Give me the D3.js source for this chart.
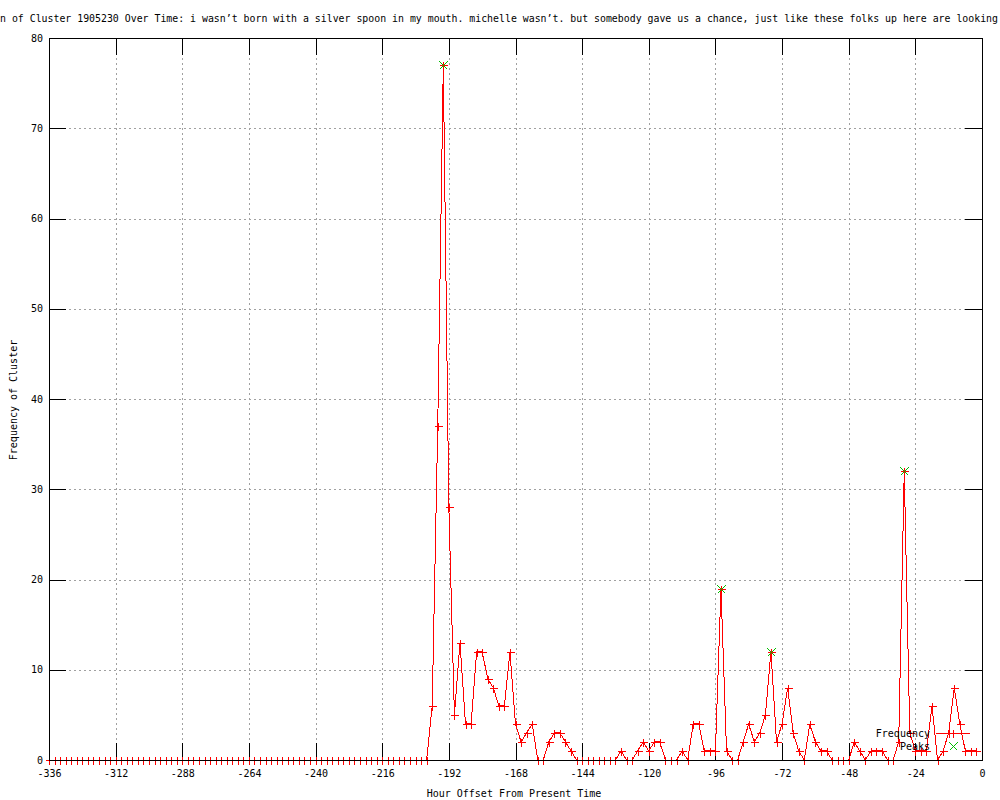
<!DOCTYPE html>
<html>
<head>
<meta charset="utf-8">
<script src="https://cdn.jsdelivr.net/npm/d3@7"></script>
<style>
  body { margin: 0; background: #fff; }
  text { font-family: "DejaVu Sans Mono", monospace; font-size: 10px; fill: #000; }
</style>
</head>
<body>
<script>
// hour offsets, one sample every 2 hours
var hours = d3.range(-336, 0, 2)

// frequency per sample, 12 values per 24h block
var freq = [
  0, 0, 0, 0, 0, 0, 0, 0, 0, 0, 0, 0,      // -336
  0, 0, 0, 0, 0, 0, 0, 0, 0, 0, 0, 0,      // -312
  0, 0, 0, 0, 0, 0, 0, 0, 0, 0, 0, 0,      // -288
  0, 0, 0, 0, 0, 0, 0, 0, 0, 0, 0, 0,      // -264
  0, 0, 0, 0, 0, 0, 0, 0, 0, 0, 0, 0,      // -240
  0, 0, 0, 0, 0, 0, 0, 0, 0, 6, 37, 77,    // -216
  28, 5, 13, 4, 4, 12, 12, 9, 8, 6, 6, 12, // -192
  4, 2, 3, 4, 0, 0, 2, 3, 3, 2, 1, 0,      // -168
  0, 0, 0, 0, 0, 0, 0, 1, 0, 0, 1, 2,      // -144
  1, 2, 2, 0, 0, 0, 1, 0, 4, 4, 1, 1,      // -120
  1, 19, 1, 0, 0, 2, 4, 2, 3, 5, 12, 2,    // -96
  4, 8, 3, 1, 0, 4, 2, 1, 1, 0, 0, 0,      // -72
  0, 2, 1, 0, 1, 1, 1, 0, 0, 2, 32, 3,     // -48
  1, 1, 1, 6, 0, 1, 3, 8, 4, 1, 1, 1       // -24
]

var peakHours = [-194, -94, -76, -28]
var peakValues = [77, 19, 12, 32]

var xTicks = d3.range(-336, 1, 24)
var yTicks = d3.range(0, 81, 10)

var titleText = "n of Cluster 1905230 Over Time: i wasn\u2019t born with a silver spoon in my mouth. michelle wasn\u2019t. but somebody gave us a chance, just like these folks up here are looking"

var plotLeft = 49, plotRight = 982, plotTop = 38, plotBottom = 760

var svg = d3
  .select("body")
  .append("svg")
  .attr("width", 1000)
  .attr("height", 800)

var x = d3.scaleLinear().domain([-336, 0]).range([plotLeft, plotRight])
var y = d3.scaleLinear().domain([0, 80]).range([plotBottom, plotTop])

var points = hours.map(function(h, i) {
  return { h: h, v: freq[i] }
})
var peaks = peakHours.map(function(h, i) {
  return { h: h, v: peakValues[i] }
})

/* ------- GRID -------*/
var grid = svg.append("g")
  .attr("stroke", "#a0a0a0")
  .attr("stroke-dasharray", "2,3")
  .attr("shape-rendering", "crispEdges")

grid.selectAll("line.gx")
  .data(xTicks.slice(1, -1))
  .join("line")
  .attr("class", "gx")
  .attr("x1", function(d) { return Math.round(x(d)) + 0.5 })
  .attr("x2", function(d) { return Math.round(x(d)) + 0.5 })
  .attr("y1", plotTop)
  .attr("y2", plotBottom)

grid.selectAll("line.gy")
  .data(yTicks.slice(1, -1))
  .join("line")
  .attr("class", "gy")
  .attr("x1", plotLeft)
  .attr("x2", plotRight)
  .attr("y1", function(d) { return Math.round(y(d)) + 0.5 })
  .attr("y2", function(d) { return Math.round(y(d)) + 0.5 })

/* ------- AXES -------*/
function styleAxis(g) {
  g.select(".domain").remove()
  g.attr("font-family", null).attr("font-size", null)
  g.selectAll("line").attr("stroke", "#000")
  g.attr("shape-rendering", "crispEdges")
}

svg.append("g")
  .attr("transform", "translate(0," + plotBottom + ")")
  .call(d3.axisBottom(x).tickValues(xTicks).tickFormat(function(d) { return String(d) })
    .tickSizeInner(-17).tickSizeOuter(0).tickPadding(10))
  .call(styleAxis)

svg.append("g")
  .attr("transform", "translate(0," + plotTop + ")")
  .call(d3.axisTop(x).tickValues(xTicks).tickFormat("").tickSizeInner(-17).tickSizeOuter(0))
  .call(styleAxis)

svg.append("g")
  .attr("transform", "translate(" + plotLeft + ",0)")
  .call(d3.axisLeft(y).tickValues(yTicks).tickFormat(function(d) { return String(d) })
    .tickSizeInner(-17).tickSizeOuter(0).tickPadding(6))
  .call(styleAxis)

svg.append("g")
  .attr("transform", "translate(" + plotRight + ",0)")
  .call(d3.axisRight(y).tickValues(yTicks).tickFormat("").tickSizeInner(-17).tickSizeOuter(0))
  .call(styleAxis)

/* ------- DATA -------*/
var line = d3.line()
  .x(function(d) { return x(d.h) })
  .y(function(d) { return y(d.v) })

svg.append("path")
  .datum(points)
  .attr("d", line)
  .attr("fill", "none")
  .attr("stroke", "#ff0000")
  .attr("stroke-width", 1)
  .attr("shape-rendering", "crispEdges")

function plus(px, py) {
  return "M" + (px - 4) + "," + py + "H" + (px + 4) + "M" + px + "," + (py - 4) + "V" + (py + 4)
}
function cross(px, py) {
  return "M" + (px - 4) + "," + (py - 4) + "L" + (px + 4) + "," + (py + 4) +
    "M" + (px - 4) + "," + (py + 4) + "L" + (px + 4) + "," + (py - 4)
}

svg.append("g")
  .selectAll("path")
  .data(points)
  .join("path")
  .attr("d", function(d) { return plus(Math.round(x(d.h)) + 0.5, Math.round(y(d.v)) + 0.5) })
  .attr("stroke", "#ff0000")
  .attr("fill", "none")
  .attr("shape-rendering", "crispEdges")

svg.append("g")
  .selectAll("path")
  .data(peaks)
  .join("path")
  .attr("d", function(d) { return cross(Math.round(x(d.h)) + 0.5, Math.round(y(d.v)) + 0.5) })
  .attr("stroke", "#00c000")
  .attr("fill", "none")
  .attr("shape-rendering", "crispEdges")

/* ------- BORDER -------*/
svg.append("rect")
  .attr("x", plotLeft + 0.5)
  .attr("y", plotTop + 0.5)
  .attr("width", plotRight - plotLeft)
  .attr("height", plotBottom - plotTop)
  .attr("fill", "none")
  .attr("stroke", "#000")
  .attr("shape-rendering", "crispEdges")

/* ------- LABELS -------*/
svg.append("text")
  .attr("x", 0)
  .attr("y", 22)
  .attr("textLength", 998)
  .attr("lengthAdjust", "spacingAndGlyphs")
  .text(titleText)

svg.append("text")
  .attr("x", 514)
  .attr("y", 797)
  .attr("text-anchor", "middle")
  .text("Hour Offset From Present Time")

svg.append("text")
  .attr("transform", "translate(17,400) rotate(-90)")
  .attr("text-anchor", "middle")
  .text("Frequency of Cluster")

/* ------- LEGEND -------*/
var legend = svg.append("g")

legend.append("text")
  .attr("x", 930)
  .attr("y", 737)
  .attr("text-anchor", "end")
  .text("Frequency")
legend.append("line")
  .attr("x1", 936).attr("x2", 970)
  .attr("y1", 733.5).attr("y2", 733.5)
  .attr("stroke", "#ff0000")
  .attr("shape-rendering", "crispEdges")
legend.append("path")
  .attr("d", plus(953.5, 733.5))
  .attr("stroke", "#ff0000")
  .attr("shape-rendering", "crispEdges")

legend.append("text")
  .attr("x", 930)
  .attr("y", 750)
  .attr("text-anchor", "end")
  .text("Peaks")
legend.append("path")
  .attr("d", cross(953.5, 746.5))
  .attr("stroke", "#00c000")
  .attr("fill", "none")
  .attr("shape-rendering", "crispEdges")
</script>
</body>
</html>
